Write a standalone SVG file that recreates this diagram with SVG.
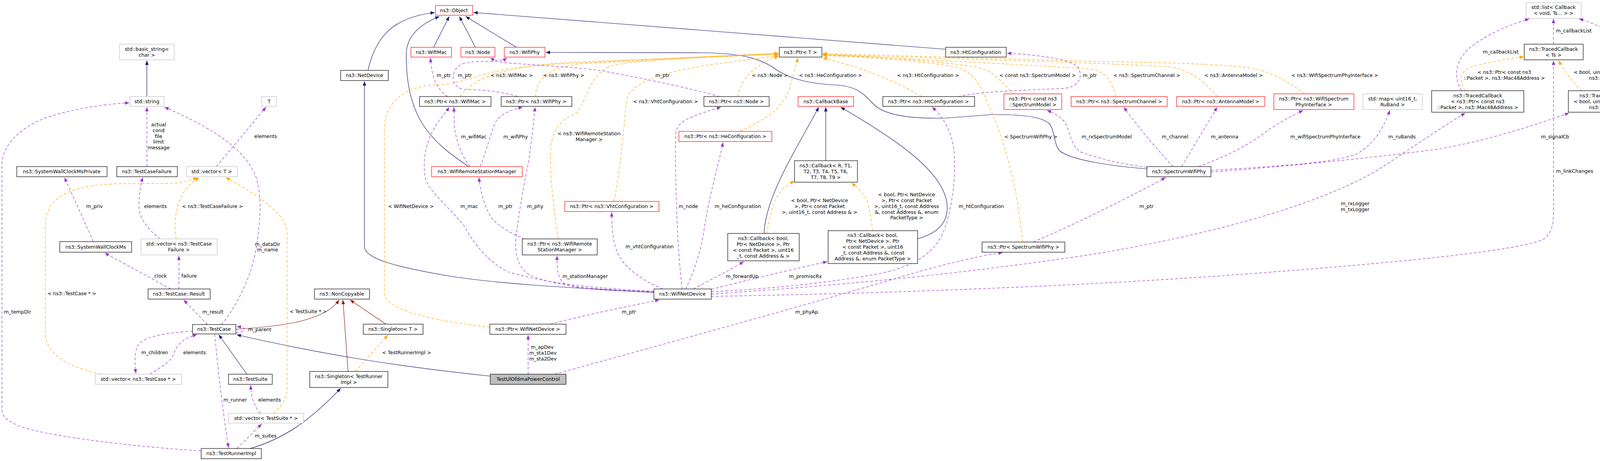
<svg xmlns="http://www.w3.org/2000/svg" width="4283" height="1179" viewBox="0 0 4283 1179">
<style>
.t{font-family:"DejaVu Sans",sans-serif;font-size:12.5px;text-anchor:middle;fill:#000}
.b{fill:#fff;stroke:#000;stroke-width:1.2}
.r{fill:#fff;stroke:#ff0000;stroke-width:1.2}
.g{fill:#fff;stroke:#bfbfbf;stroke-width:1.2}
.s{fill:#bfbfbf;stroke:#000;stroke-width:1.2}
.n{fill:none;stroke:#191970;stroke-width:1.2;marker-end:url(#an)}
.f{fill:none;stroke:#8b1a1a;stroke-width:1.2;marker-end:url(#ar)}
.p{fill:none;stroke:#9a32cd;stroke-width:1.2;stroke-dasharray:7,5;marker-end:url(#ap)}
.o{fill:none;stroke:#ffa500;stroke-width:1.2;stroke-dasharray:7,5;marker-end:url(#ao)}
</style>
<defs>
<marker id="an" viewBox="0 0 10 8" refX="10" refY="4" markerWidth="11" markerHeight="9" markerUnits="userSpaceOnUse" orient="auto"><path d="M0,0L10,4L0,8z" fill="#191970"/></marker>
<marker id="ar" viewBox="0 0 10 8" refX="10" refY="4" markerWidth="11" markerHeight="9" markerUnits="userSpaceOnUse" orient="auto"><path d="M0,0L10,4L0,8z" fill="#8b1a1a"/></marker>
<marker id="ap" viewBox="0 0 10 8" refX="10" refY="4" markerWidth="11" markerHeight="9" markerUnits="userSpaceOnUse" orient="auto"><path d="M0,0L10,4L0,8z" fill="#9a32cd"/></marker>
<marker id="ao" viewBox="0 0 10 8" refX="10" refY="4" markerWidth="11" markerHeight="9" markerUnits="userSpaceOnUse" orient="auto"><path d="M0,0L10,4L0,8z" fill="#ffa500"/></marker>
</defs>
<rect width="4283" height="1179" fill="#fff"/>
<g id="edges">
<path class="n" d="M942,180 C960,100 1000,45 1113,32"/>
<path class="n" d="M1110,121 L1150,42"/>
<path class="n" d="M1217,121 L1176,42"/>
<path class="n" d="M1322,121 L1192,42"/>
<path class="n" d="M1200,426 C1100,360 1040,300 1040,140 C1040,90 1080,60 1125,42"/>
<path class="n" d="M2421,126 L1212,32"/>
<path class="n" d="M1674,748 C1550,740 1300,730 1150,706 C1000,680 933,660 933,630 L933,208"/>
<path class="n" d="M2936,432 C2850,425 2740,410 2712,385 C2698,370 2700,330 2685,315 C2660,295 2600,293 2540,293 L2420,302 C2330,304 2270,295 2240,270 C2210,240 2200,225 2150,218 C2080,215 2030,205 1990,180 C1950,150 1900,136 1800,135 L1397,134"/>
<path class="n" d="M2114,411 L2114,274"/>
<path class="n" d="M1956,597 C1960,500 2040,380 2096,274"/>
<path class="n" d="M2349,611 C2400,596 2430,570 2424,520 C2415,440 2300,360 2152,274"/>
<path class="n" d="M376,247 L376,155"/>
<path class="n" d="M632,957 L560,856"/>
<path class="n" d="M1255,962 C1000,935 820,905 606,856"/>
<path class="n" d="M640,1147 C720,1125 790,1080 872,993"/>
<path class="f" d="M604,842 C700,836 830,825 868,767"/>
<path class="f" d="M891,950 L878,767"/>
<path class="f" d="M988,829 L896,767"/>
<path class="o" d="M451,611 C443,560 450,490 510,454"/>
<path class="o" d="M259,957 C160,935 116,900 116,850 L116,580 C116,520 150,475 300,470 L440,469 C470,467 490,460 505,454"/>
<path class="o" d="M700,1057 C720,1040 735,1020 735,990 L735,600 C735,560 700,520 578,454"/>
<path class="o" d="M910,950 L993,857"/>
<path class="o" d="M1254,837 C1100,820 984,790 984,750 L984,330 C984,260 1040,218 1120,217 C1200,215 1220,178 1400,165 L1993,136"/>
<path class="o" d="M1178,247 C1210,205 1260,175 1450,160 L1993,137"/>
<path class="o" d="M1371,247 C1372,205 1400,170 1500,162 L1993,138"/>
<path class="o" d="M1429,611 C1420,550 1405,440 1410,380 C1415,320 1450,300 1470,292 C1500,275 1500,200 1560,170 C1600,155 1800,145 1993,139"/>
<path class="o" d="M1572,515 C1590,420 1598,310 1605,250 C1620,210 1700,185 1802,168 L1993,142"/>
<path class="o" d="M1888,247 C1900,200 1930,165 1993,144"/>
<path class="o" d="M1895,336 C1960,305 2000,280 2020,230 L2043,148"/>
<path class="o" d="M2359,247 C2300,210 2200,170 2106,148"/>
<path class="o" d="M2596,240 C2560,210 2550,182 2500,172 C2400,155 2200,142 2106,139"/>
<path class="o" d="M2618,619 L2613,580 C2600,450 2560,330 2530,268 C2510,220 2500,185 2440,170 C2350,155 2200,145 2106,142"/>
<path class="o" d="M2857,247 C2845,210 2835,188 2800,178 C2700,168 2300,150 2106,140"/>
<path class="o" d="M3116,247 C3080,205 3050,182 3000,172 C2900,162 2400,150 2106,139"/>
<path class="o" d="M3340,240 C3300,210 3260,188 3220,178 C3170,165 3000,160 2800,157 L2106,137"/>
<path class="o" d="M1963,597 C1970,560 1980,510 1995,494 C2005,480 2020,470 2034,463"/>
<path class="o" d="M2234,590 C2230,560 2225,520 2215,505 C2205,490 2195,480 2180,468"/>
<path class="o" d="M3751,232 C3735,210 3735,180 3770,170 C3810,160 3860,150 3901,145"/>
<path class="o" d="M4050,232 C4030,215 4010,190 3990,155"/>
<path class="p" d="M376,426 L376,274"/>
<path class="p" d="M515,1153 C300,1140 100,1110 50,1090 C5,1070 5,1060 5,1040 L5,420 C5,380 40,330 120,300 C200,275 280,265 331,263"/>
<path class="p" d="M567,830 C600,790 640,720 655,640 C670,550 670,480 650,440 C620,380 550,330 421,274"/>
<path class="p" d="M554,426 L681,274"/>
<path class="p" d="M239,618 L165,454"/>
<path class="p" d="M410,611 C395,600 360,570 356,535 C355,500 360,470 366,454"/>
<path class="p" d="M437,739 L268,647"/>
<path class="p" d="M458,739 L458,654"/>
<path class="p" d="M531,830 L470,767"/>
<path class="p" d="M604,851 C632,850 632,835 606,836"/>
<path class="p" d="M493,847 C420,852 360,860 350,890 C344,910 345,935 348,955"/>
<path class="p" d="M384,957 C410,940 440,925 447,900 C455,875 480,862 504,856"/>
<path class="p" d="M550,855 C555,920 570,1050 585,1145"/>
<path class="p" d="M667,1057 C650,1040 642,1010 642,985"/>
<path class="p" d="M607,1147 L670,1084"/>
<path class="p" d="M1146,247 C1120,230 1105,200 1102,148"/>
<path class="p" d="M1325,247 C1280,232 1220,229 1190,229 C1160,225 1155,200 1165,180 C1175,160 1200,157 1250,157 C1280,157 1292,152 1298,148"/>
<path class="p" d="M1842,247 C1780,230 1700,210 1534,180 C1450,170 1350,165 1290,160 C1270,157 1262,152 1255,148"/>
<path class="p" d="M1204,426 C1180,400 1165,350 1163,320 L1162,274"/>
<path class="p" d="M1229,426 C1245,390 1255,340 1270,310 C1285,290 1310,280 1338,274"/>
<path class="p" d="M1674,745 C1500,735 1400,725 1300,695 C1250,670 1210,620 1190,580 C1150,530 1100,490 1090,460 C1080,420 1090,370 1105,340 C1120,310 1140,290 1150,274"/>
<path class="p" d="M1343,612 C1320,600 1290,590 1260,560 C1240,530 1230,490 1226,454"/>
<path class="p" d="M1674,746 C1500,740 1420,730 1360,705 C1330,690 1320,660 1320,620 C1325,560 1345,450 1352,420 C1360,370 1365,320 1370,274"/>
<path class="p" d="M1674,748 C1550,742 1470,740 1445,725 C1428,712 1425,690 1426,654"/>
<path class="p" d="M1697,739 C1660,725 1620,700 1595,670 C1570,640 1566,590 1566,543"/>
<path class="p" d="M1746,739 C1740,680 1735,620 1733,560 C1730,480 1728,400 1730,340 C1735,310 1760,300 1846,274"/>
<path class="p" d="M1755,739 C1775,700 1795,640 1802,590 C1815,500 1840,420 1851,364"/>
<path class="p" d="M1775,739 C1820,715 1870,690 1904,669"/>
<path class="p" d="M1821,740 C1900,720 2000,695 2118,669"/>
<path class="p" d="M1821,746 C1950,740 2100,727 2250,700 C2350,680 2400,640 2420,580 C2440,520 2450,430 2440,370 C2430,320 2405,290 2386,274"/>
<path class="p" d="M1409,829 C1500,805 1600,785 1688,767"/>
<path class="p" d="M1352,957 L1352,857"/>
<path class="p" d="M1420,957 C1700,880 2100,770 2300,710 C2400,680 2500,655 2567,646"/>
<path class="p" d="M2645,619 C2750,575 2900,500 2984,454"/>
<path class="p" d="M2453,247 C2520,232 2650,230 2725,226 C2770,220 2770,190 2760,172 C2740,150 2650,140 2578,136"/>
<path class="p" d="M2936,428 C2870,420 2800,402 2765,388 C2745,375 2740,345 2730,320 C2720,300 2700,290 2680,282"/>
<path class="p" d="M3003,426 C2960,380 2910,320 2877,274"/>
<path class="p" d="M3025,426 L3116,274"/>
<path class="p" d="M3068,426 C3140,400 3200,370 3250,330 C3290,305 3320,290 3336,282"/>
<path class="p" d="M3100,436 C3250,425 3400,420 3470,395 C3520,370 3545,320 3558,282"/>
<path class="p" d="M3100,440 C3300,425 3550,400 3690,380 C3800,360 3900,330 4017,289"/>
<path class="p" d="M1821,752 C2300,720 2600,680 2800,650 C3100,600 3400,520 3550,420 C3640,360 3700,320 3751,289"/>
<path class="p" d="M1821,758 C2300,750 2800,730 3200,700 C3600,670 3900,640 3955,610 C3975,590 3977,570 3977,540 L3977,155"/>
<path class="p" d="M3977,113 L3977,48"/>
<path class="p" d="M3742,232 C3722,200 3722,160 3760,125 C3800,90 3860,65 3915,48"/>
<path class="p" d="M4167,232 C4190,210 4195,170 4172,130 C4150,95 4100,65 4042,48"/>
</g>
<g id="labels" class="t">
<text x="406" y="323">actual</text><text x="406" y="338">cond</text><text x="406" y="353">file</text><text x="406" y="367">limit</text><text x="406" y="382">message</text>
<text x="680" y="353">elements</text>
<text x="242" y="532">m_priv</text>
<text x="398" y="532">elements</text>
<text x="544" y="532">&lt; ns3::TestCaseFailure &gt;</text>
<text x="685" y="629">m_dataDir</text><text x="685" y="643">m_name</text>
<text x="411" y="710">clock</text>
<text x="484" y="710">failure</text>
<text x="184" y="755">&lt; ns3::TestCase * &gt;</text>
<text x="45" y="802">m_tempDir</text>
<text x="545" y="802">m_result</text>
<text x="665" y="847">m_parent</text>
<text x="396" y="906">m_children</text>
<text x="498" y="906">elements</text>
<text x="602" y="1027">m_runner</text>
<text x="690" y="1027">elements</text>
<text x="680" y="1119">m_suites</text>
<text x="789" y="801">&lt; TestSuite * &gt;</text>
<text x="1041" y="906">&lt; TestRunnerImpl &gt;</text>
<text x="1388" y="892">m_apDev</text><text x="1390" y="907">m_sta1Dev</text><text x="1390" y="922">m_sta2Dev</text>
<text x="1610" y="802">m_ptr</text>
<text x="2065" y="802">m_phyAp</text>
<text x="1498" y="711">m_stationManager</text>
<text x="1900" y="711">m_forwardUp</text>
<text x="2062" y="711">m_promiscRx</text>
<text x="1663" y="635">m_vhtConfiguration</text>
<text x="1136" y="197">m_ptr</text>
<text x="1190" y="197">m_ptr</text>
<text x="1310" y="197">&lt; ns3::WifiMac &gt;</text>
<text x="1443" y="197">&lt; ns3::WifiPhy &gt;</text>
<text x="1696" y="197">m_ptr</text>
<text x="1971" y="197">&lt; ns3::Node &gt;</text>
<text x="2126" y="197">&lt; ns3::HeConfiguration &gt;</text>
<text x="2376" y="197">&lt; ns3::HtConfiguration &gt;</text>
<text x="2656" y="197">&lt; const ns3::SpectrumModel &gt;</text>
<text x="2790" y="197">m_ptr</text>
<text x="2936" y="197">&lt; ns3::SpectrumChannel &gt;</text>
<text x="3158" y="197">&lt; ns3::AntennaModel &gt;</text>
<text x="3417" y="197">&lt; ns3::WifiSpectrumPhyInterface &gt;</text>
<text x="1213" y="354">m_wifiMac</text>
<text x="1320" y="354">m_wifiPhy</text>
<text x="1704" y="264">&lt; ns3::VhtConfiguration &gt;</text>
<text x="1508" y="346">&lt; ns3::WifiRemoteStation</text><text x="1508" y="361">Manager &gt;</text>
<text x="1052" y="532">&lt; WifiNetDevice &gt;</text>
<text x="1201" y="532">m_mac</text>
<text x="1294" y="532">m_ptr</text>
<text x="1370" y="532">m_phy</text>
<text x="1762" y="532">m_node</text>
<text x="1889" y="532">m_heConfiguration</text>
<text x="2098" y="517">&lt; bool, Ptr&lt; NetDevice</text><text x="2098" y="532">&gt;, Ptr&lt; const Packet</text><text x="2098" y="547">&gt;, uint16_t, const Address &amp; &gt;</text>
<text x="2321" y="502">&lt; bool, Ptr&lt; NetDevice</text><text x="2321" y="517">&gt;, Ptr&lt; const Packet</text><text x="2321" y="532">&gt;, uint16_t, const Address</text><text x="2321" y="547">&amp;, const Address &amp;, enum</text><text x="2321" y="561">PacketType &gt;</text>
<text x="2512" y="532">m_htConfiguration</text>
<text x="2639" y="354">&lt; SpectrumWifiPhy &gt;</text>
<text x="2833" y="354">m_rxSpectrumModel</text>
<text x="3008" y="354">m_channel</text>
<text x="3135" y="354">m_antenna</text>
<text x="3393" y="354">m_wifiSpectrumPhyInterface</text>
<text x="3589" y="354">m_ruBands</text>
<text x="3981" y="354">m_signalCb</text>
<text x="2935" y="532">m_ptr</text>
<text x="3469" y="525">m_rxLogger</text><text x="3469" y="540">m_txLogger</text>
<text x="4031" y="442">m_linkChanges</text>
<text x="4029" y="83">m_callbackList</text>
<text x="3842" y="137">m_callbackList</text>
<text x="4228" y="137">m_callbackList</text>
<text x="3851" y="189">&lt; ns3::Ptr&lt; const ns3</text><text x="3851" y="204">::Packet &gt;, ns3::Mac48Address &gt;</text>
<text x="4106" y="189">&lt; bool, uint32_t, double,</text><text x="4106" y="204">ns3::Time &gt;</text>
</g>
<g id="n1"><rect class="g" x="306" y="113" width="140" height="40"/><text class="t" x="376" y="130">std::basic_string&lt;</text><text class="t" x="376" y="145">char &gt;</text></g>
<g id="n2"><rect class="g" x="333" y="247" width="87" height="25"/><text class="t" x="376" y="264">std::string</text></g>
<g id="n3"><rect class="g" x="670" y="247" width="38" height="25"/><text class="t" x="689" y="264">T</text></g>
<g id="n4"><rect class="b" x="43" y="426" width="231" height="26"/><text class="t" x="158" y="443">ns3::SystemWallClockMsPrivate</text></g>
<g id="n5"><rect class="b" x="299" y="426" width="155" height="26"/><text class="t" x="376" y="443">ns3::TestCaseFailure</text></g>
<g id="n6"><rect class="g" x="477" y="426" width="131" height="26"/><text class="t" x="542" y="443">std::vector&lt; T &gt;</text></g>
<g id="n7"><rect class="b" x="153" y="618" width="184" height="27"/><text class="t" x="245" y="636">ns3::SystemWallClockMs</text></g>
<g id="n8"><rect class="g" x="361" y="611" width="195" height="41"/><text class="t" x="458" y="628">std::vector&lt; ns3::TestCase</text><text class="t" x="458" y="643">Failure &gt;</text></g>
<g id="n9"><rect class="b" x="379" y="739" width="159" height="26"/><text class="t" x="458" y="756">ns3::TestCase::Result</text></g>
<g id="n10"><rect class="b" x="493" y="830" width="111" height="24"/><text class="t" x="548" y="846">ns3::TestCase</text></g>
<g id="n11"><rect class="g" x="244" y="957" width="221" height="26"/><text class="t" x="354" y="974">std::vector&lt; ns3::TestCase * &gt;</text></g>
<g id="n12"><rect class="b" x="585" y="957" width="112" height="26"/><text class="t" x="641" y="974">ns3::TestSuite</text></g>
<g id="n13"><rect class="g" x="585" y="1057" width="192" height="25"/><text class="t" x="681" y="1074">std::vector&lt; TestSuite * &gt;</text></g>
<g id="n14"><rect class="b" x="515" y="1147" width="154" height="26"/><text class="t" x="592" y="1164">ns3::TestRunnerImpl</text></g>
<g id="n15"><rect class="b" x="805" y="739" width="141" height="26"/><text class="t" x="875" y="756">ns3::NonCopyable</text></g>
<g id="n16"><rect class="b" x="930" y="829" width="153" height="26"/><text class="t" x="1006" y="846">ns3::Singleton&lt; T &gt;</text></g>
<g id="n17"><rect class="b" x="793" y="950" width="200" height="41"/><text class="t" x="893" y="967">ns3::Singleton&lt; TestRunner</text><text class="t" x="893" y="982">Impl &gt;</text></g>
<g id="n18"><rect class="b" x="1254" y="829" width="195" height="26"/><text class="t" x="1351" y="846">ns3::Ptr&lt; WifiNetDevice &gt;</text></g>
<g id="n19"><rect class="s" x="1255" y="957" width="194" height="26"/><text class="t" x="1352" y="974">TestUlOfdmaPowerControl</text></g>
<g id="n20"><rect class="r" x="1115" y="14" width="95" height="25"/><text class="t" x="1162" y="31">ns3::Object</text></g>
<g id="n21"><rect class="r" x="1052" y="121" width="104" height="25"/><text class="t" x="1104" y="138">ns3::WifiMac</text></g>
<g id="n22"><rect class="r" x="1180" y="121" width="87" height="25"/><text class="t" x="1223" y="138">ns3::Node</text></g>
<g id="n23"><rect class="r" x="1291" y="121" width="104" height="25"/><text class="t" x="1343" y="138">ns3::WifiPhy</text></g>
<g id="n24"><rect class="b" x="872" y="180" width="122" height="26"/><text class="t" x="933" y="197">ns3::NetDevice</text></g>
<g id="n25"><rect class="b" x="1074" y="247" width="183" height="25"/><text class="t" x="1165" y="264">ns3::Ptr&lt; ns3::WifiMac &gt;</text></g>
<g id="n26"><rect class="b" x="1283" y="247" width="181" height="25"/><text class="t" x="1373" y="264">ns3::Ptr&lt; ns3::WifiPhy &gt;</text></g>
<g id="n27"><rect class="r" x="1105" y="426" width="232" height="26"/><text class="t" x="1221" y="443">ns3::WifiRemoteStationManager</text></g>
<g id="n28"><rect class="b" x="1337" y="611" width="192" height="41"/><text class="t" x="1433" y="628">ns3::Ptr&lt; ns3::WifiRemote</text><text class="t" x="1433" y="643">StationManager &gt;</text></g>
<g id="n29"><rect class="b" x="1995" y="121" width="109" height="25"/><text class="t" x="2049" y="138">ns3::Ptr&lt; T &gt;</text></g>
<g id="n30"><rect class="b" x="1802" y="247" width="167" height="25"/><text class="t" x="1885" y="264">ns3::Ptr&lt; ns3::Node &gt;</text></g>
<g id="n31"><rect class="r" x="2043" y="247" width="142" height="25"/><text class="t" x="2114" y="264">ns3::CallbackBase</text></g>
<g id="n32"><rect class="r" x="1738" y="336" width="238" height="26"/><text class="t" x="1857" y="353">ns3::Ptr&lt; ns3::HeConfiguration &gt;</text></g>
<g id="n33"><rect class="b" x="2034" y="411" width="161" height="55"/><text class="t" x="2114" y="428">ns3::Callback&lt; R, T1,</text><text class="t" x="2114" y="443">T2, T3, T4, T5, T6,</text><text class="t" x="2114" y="458">T7, T8, T9 &gt;</text></g>
<g id="n34"><rect class="r" x="1446" y="515" width="241" height="26"/><text class="t" x="1566" y="532">ns3::Ptr&lt; ns3::VhtConfiguration &gt;</text></g>
<g id="n35"><rect class="b" x="1863" y="597" width="183" height="70"/><text class="t" x="1954" y="614">ns3::Callback&lt; bool,</text><text class="t" x="1954" y="629">Ptr&lt; NetDevice &gt;, Ptr</text><text class="t" x="1954" y="644">&lt; const Packet &gt;, uint16</text><text class="t" x="1954" y="659">_t, const Address &amp; &gt;</text></g>
<g id="n36"><rect class="b" x="1674" y="739" width="147" height="26"/><text class="t" x="1747" y="756">ns3::WifiNetDevice</text></g>
<g id="n37"><rect class="b" x="2421" y="121" width="155" height="25"/><text class="t" x="2498" y="138">ns3::HtConfiguration</text></g>
<g id="n38"><rect class="b" x="2260" y="247" width="235" height="25"/><text class="t" x="2377" y="264">ns3::Ptr&lt; ns3::HtConfiguration &gt;</text></g>
<g id="n39"><rect class="r" x="2570" y="240" width="148" height="40"/><text class="t" x="2644" y="257">ns3::Ptr&lt; const ns3</text><text class="t" x="2644" y="272">::SpectrumModel &gt;</text></g>
<g id="n40"><rect class="r" x="2742" y="247" width="246" height="25"/><text class="t" x="2865" y="264">ns3::Ptr&lt; ns3::SpectrumChannel &gt;</text></g>
<g id="n41"><rect class="r" x="3012" y="247" width="226" height="25"/><text class="t" x="3125" y="264">ns3::Ptr&lt; ns3::AntennaModel &gt;</text></g>
<g id="n42"><rect class="r" x="3261" y="240" width="205" height="40"/><text class="t" x="3363" y="257">ns3::Ptr&lt; ns3::WifiSpectrum</text><text class="t" x="3363" y="272">PhyInterface &gt;</text></g>
<g id="n43"><rect class="g" x="3489" y="240" width="152" height="40"/><text class="t" x="3565" y="257">std::map&lt; uint16_t,</text><text class="t" x="3565" y="272">RuBand &gt;</text></g>
<g id="n44"><rect class="b" x="2120" y="590" width="229" height="84"/><text class="t" x="2234" y="606">ns3::Callback&lt; bool,</text><text class="t" x="2234" y="621">Ptr&lt; NetDevice &gt;, Ptr</text><text class="t" x="2234" y="636">&lt; const Packet &gt;, uint16</text><text class="t" x="2234" y="651">_t, const Address &amp;, const</text><text class="t" x="2234" y="666">Address &amp;, enum PacketType &gt;</text></g>
<g id="n45"><rect class="b" x="2514" y="619" width="212" height="26"/><text class="t" x="2620" y="636">ns3::Ptr&lt; SpectrumWifiPhy &gt;</text></g>
<g id="n46"><rect class="b" x="2936" y="426" width="164" height="26"/><text class="t" x="3018" y="443">ns3::SpectrumWifiPhy</text></g>
<g id="n47"><rect class="g" x="3907" y="7" width="141" height="40"/><text class="t" x="3977" y="23">std::list&lt; Callback</text><text class="t" x="3977" y="38">&lt; void, Ts... &gt; &gt;</text></g>
<g id="n48"><rect class="b" x="3902" y="113" width="151" height="40"/><text class="t" x="3977" y="130">ns3::TracedCallback</text><text class="t" x="3977" y="145">&lt; Ts &gt;</text></g>
<g id="n49"><rect class="b" x="3665" y="232" width="236" height="55"/><text class="t" x="3783" y="249">ns3::TracedCallback</text><text class="t" x="3783" y="264">&lt; ns3::Ptr&lt; const ns3</text><text class="t" x="3783" y="279">::Packet &gt;, ns3::Mac48Address &gt;</text></g>
<g id="n50"><rect class="b" x="4015" y="232" width="183" height="55"/><text class="t" x="4106" y="249">ns3::TracedCallback</text><text class="t" x="4106" y="264">&lt; bool, uint32_t, double,</text><text class="t" x="4106" y="279">ns3::Time &gt;</text></g>
</svg>
